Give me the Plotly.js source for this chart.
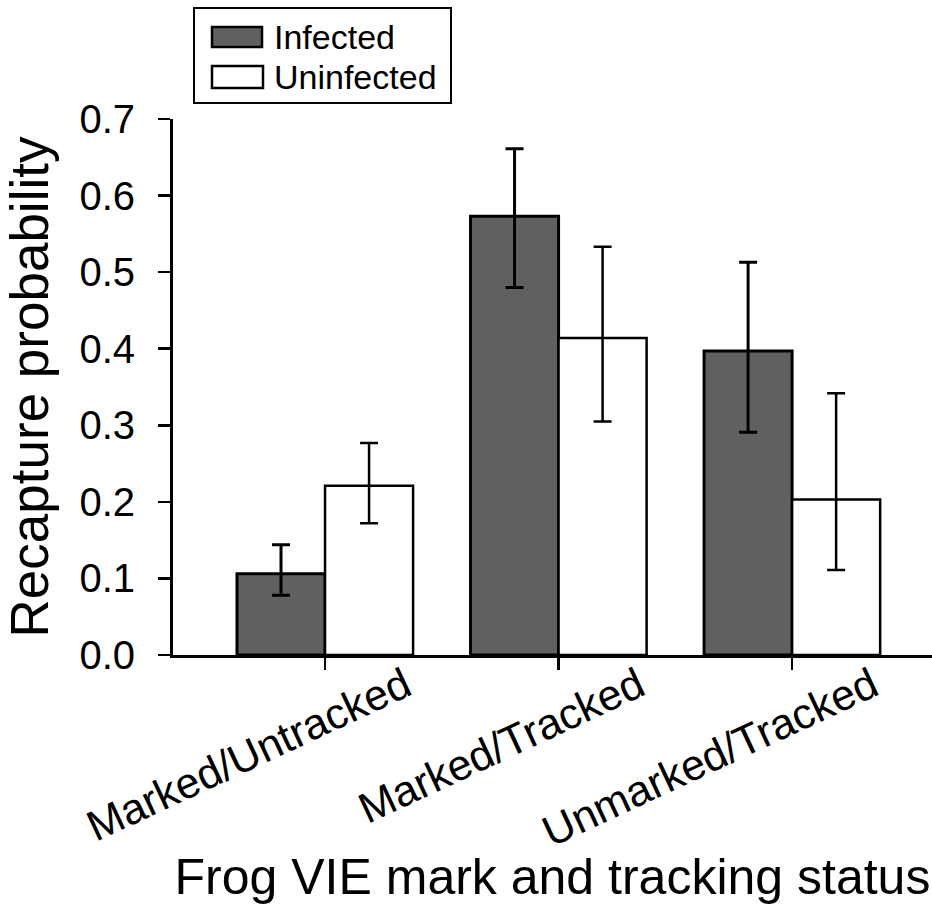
<!DOCTYPE html>
<html>
<head>
<meta charset="utf-8">
<script src="https://cdn.plot.ly/plotly-3.0.1.min.js"></script>
<style>
  html, body { margin: 0; padding: 0; background: #ffffff; }
  #chart { width: 932px; height: 905px; }
</style>
</head>
<body>
<div id="chart"></div>
<script>
// ---- data ----
const categories = ["Marked/Untracked", "Marked/Tracked", "Unmarked/Tracked"];
const seriesNames = ["Infected", "Uninfected"];
const infectedValues = [0.106, 0.573, 0.397];
const infectedUpper = [0.144, 0.661, 0.513];
const infectedLower = [0.078, 0.480, 0.291];
const uninfectedValues = [0.221, 0.414, 0.203];
const uninfectedUpper = [0.277, 0.533, 0.342];
const uninfectedLower = [0.172, 0.305, 0.111];
const yTickValues = [0, 0.1, 0.2, 0.3, 0.4, 0.5, 0.6, 0.7];
const xTitle = "Frog VIE mark and tracking status";
const yTitle = "Recapture probability";

// ---- styling ----
const FONT = "Liberation Sans, Arial, Helvetica, sans-serif";
const infectedColor = "#606060";
const uninfectedColor = "#ffffff";

function errPlus(vals, up) { return vals.map((v, i) => up[i] - v); }
function errMinus(vals, lo) { return vals.map((v, i) => v - lo[i]); }

const traces = [
  {
    type: "bar", name: seriesNames[0], x: categories, y: infectedValues,
    marker: { color: infectedColor, line: { color: "#000000", width: 3 } },
    error_y: { type: "data", symmetric: false,
      array: errPlus(infectedValues, infectedUpper),
      arrayminus: errMinus(infectedValues, infectedLower),
      color: "#000000", thickness: 3, width: 9 },
    showlegend: false, hoverinfo: "skip"
  },
  {
    type: "bar", name: seriesNames[1], x: categories, y: uninfectedValues,
    marker: { color: uninfectedColor, line: { color: "#000000", width: 2.5 } },
    error_y: { type: "data", symmetric: false,
      array: errPlus(uninfectedValues, uninfectedUpper),
      arrayminus: errMinus(uninfectedValues, uninfectedLower),
      color: "#000000", thickness: 2.5, width: 9 },
    showlegend: false, hoverinfo: "skip"
  }
];

// legend drawn in paper coordinates (plot area: x 173..932, y 119..655 px)
const L = 173, R = 932, T = 119, B = 655;
const px = v => (v - L) / (R - L);
const py = v => (B - v) / (B - T);

const shapes = [
  { type: "rect", xref: "paper", yref: "paper", x0: px(194), x1: px(451), y0: py(103), y1: py(8),
    line: { color: "#000000", width: 2 }, fillcolor: "#ffffff", layer: "above" },
  { type: "rect", xref: "paper", yref: "paper", x0: px(212), x1: px(262), y0: py(47), y1: py(27),
    line: { color: "#000000", width: 2.5 }, fillcolor: infectedColor, layer: "above" },
  { type: "rect", xref: "paper", yref: "paper", x0: px(212), x1: px(263), y0: py(88), y1: py(66),
    line: { color: "#000000", width: 2.5 }, fillcolor: uninfectedColor, layer: "above" }
];
const annotations = [
  { xref: "paper", yref: "paper", x: px(272), y: py(37), xanchor: "left", yanchor: "middle",
    text: seriesNames[0], showarrow: false, font: { family: FONT, size: 34, color: "#000" } },
  { xref: "paper", yref: "paper", x: px(272), y: py(77), xanchor: "left", yanchor: "middle",
    text: seriesNames[1], showarrow: false, font: { family: FONT, size: 34, color: "#000" } }
];

const layout = {
  width: 932, height: 905,
  margin: { l: L, r: 932 - R, t: T, b: 905 - B, pad: 0 },
  paper_bgcolor: "#ffffff", plot_bgcolor: "#ffffff",
  font: { family: FONT, color: "#000000" },
  barmode: "group", bargap: 0.246, bargroupgap: 0,
  showlegend: false,
  xaxis: {
    type: "category", range: [-0.651, 2.599], fixedrange: true,
    showline: true, linecolor: "#000000", linewidth: 3,
    ticks: "outside", ticklen: 12, tickwidth: 2.5, tickcolor: "#000000",
    tickangle: -25, ticklabelshift: 80, ticklabelstandoff: -26,
    tickfont: { family: FONT, size: 43, color: "#000000" },
    showgrid: false, zeroline: false, automargin: false,
    title: { text: xTitle, font: { family: FONT, size: 50, color: "#000000" }, standoff: 0 }
  },
  yaxis: {
    range: [0, 0.7], fixedrange: true,
    tickvals: yTickValues, tickformat: ".1f",
    showline: true, linecolor: "#000000", linewidth: 3,
    ticks: "outside", ticklen: 12, tickwidth: 2.5, tickcolor: "#000000",
    ticklabelstandoff: 15,
    tickfont: { family: FONT, size: 40, color: "#000000" },
    showgrid: false, zeroline: false, automargin: false,
    title: { text: yTitle, font: { family: FONT, size: 53, color: "#000000" }, standoff: 26 }
  },
  shapes: shapes,
  annotations: annotations
};

Plotly.newPlot("chart", traces, layout, { displayModeBar: false, staticPlot: true });
</script>
</body>
</html>
